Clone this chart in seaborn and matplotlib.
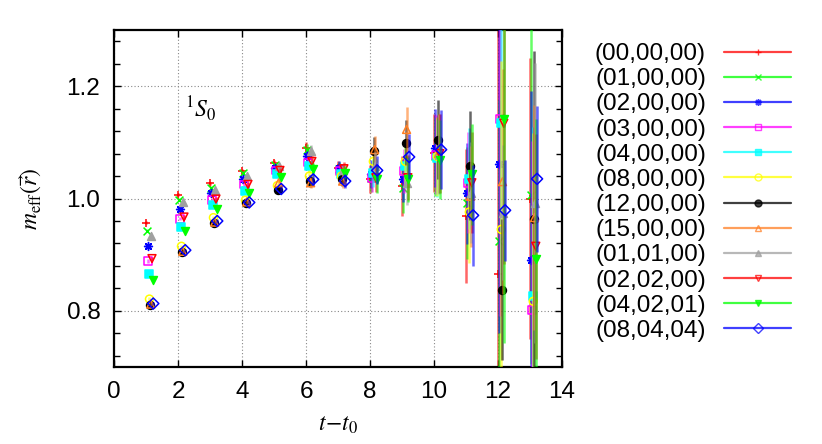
import numpy as np
import pandas as pd
import seaborn as sns
import matplotlib.pyplot as plt
from matplotlib.lines import Line2D
from matplotlib.ticker import MultipleLocator

# time slices
t_vals = list(range(1, 14))

labels = ["(00,00,00)", "(01,00,00)", "(02,00,00)", "(03,00,00)",
          "(04,00,00)", "(08,00,00)", "(12,00,00)", "(15,00,00)",
          "(01,01,00)", "(02,02,00)", "(04,02,01)", "(08,04,04)"]

# effective mass per relative distance
m_00_00_00 = [0.957, 1.007, 1.027, 1.049, 1.064, 1.090, 1.055, 1.034, 1.022, 1.081, 0.969, 0.866, 1.000]
m_01_00_00 = [0.943, 0.998, 1.019, 1.045, 1.059, 1.087, 1.053, 1.037, 1.019, 1.075, 0.992, 0.925, 1.006]
m_02_00_00 = [0.916, 0.982, 1.010, 1.034, 1.055, 1.075, 1.055, 1.043, 1.034, 1.090, 1.009, 1.061, 0.891]
m_03_00_00 = [0.889, 0.964, 0.998, 1.025, 1.050, 1.064, 1.049, 1.037, 1.049, 1.078, 1.028, 1.141, 0.802]
m_04_00_00 = [0.866, 0.950, 0.989, 1.014, 1.043, 1.057, 1.043, 1.046, 1.058, 1.072, 1.035, 1.135, 0.827]
m_08_00_00 = [0.821, 0.915, 0.966, 0.997, 1.023, 1.040, 1.040, 1.066, 1.066, 1.075, 0.976, 0.945, 0.817]
m_12_00_00 = [0.811, 0.905, 0.957, 0.992, 1.016, 1.031, 1.034, 1.084, 1.099, 1.105, 1.058, 0.838, 0.963]
m_15_00_00 = [0.812, 0.906, 0.958, 0.994, 1.028, 1.028, 1.031, 1.087, 1.123, 1.080, 1.004, 1.030, 0.966]
m_01_01_00 = [0.934, 0.993, 1.016, 1.040, 1.058, 1.085, 1.050, 1.058, 1.028, 1.078, 1.010, 0.975, 0.992]
m_02_02_00 = [0.893, 0.967, 0.999, 1.025, 1.050, 1.066, 1.053, 1.037, 1.037, 1.080, 1.028, 1.134, 0.915]
m_04_02_01 = [0.855, 0.942, 0.982, 1.010, 1.039, 1.053, 1.046, 1.034, 1.034, 1.069, 1.043, 1.142, 0.892]
m_08_04_04 = [0.813, 0.908, 0.960, 0.993, 1.017, 1.034, 1.031, 1.050, 1.074, 1.087, 0.970, 0.979, 1.035]

# statistical errors
e_00_00_00 = [0.003, 0.003, 0.003, 0.004, 0.005, 0.010, 0.012, 0.025, 0.053, 0.070, 0.120, 0.500, 0.250]
e_01_00_00 = [0.003, 0.003, 0.003, 0.004, 0.005, 0.010, 0.012, 0.025, 0.045, 0.070, 0.100, 0.250, 0.300]
e_02_00_00 = [0.003, 0.003, 0.003, 0.004, 0.005, 0.010, 0.012, 0.025, 0.040, 0.070, 0.090, 0.300, 0.300]
e_03_00_00 = [0.003, 0.003, 0.003, 0.004, 0.005, 0.010, 0.012, 0.025, 0.040, 0.070, 0.090, 0.350, 0.300]
e_04_00_00 = [0.003, 0.003, 0.003, 0.004, 0.005, 0.010, 0.012, 0.025, 0.040, 0.070, 0.090, 0.300, 0.300]
e_08_00_00 = [0.003, 0.003, 0.003, 0.004, 0.005, 0.010, 0.012, 0.025, 0.040, 0.070, 0.090, 0.300, 0.300]
e_12_00_00 = [0.003, 0.003, 0.003, 0.004, 0.005, 0.010, 0.012, 0.025, 0.040, 0.070, 0.097, 0.125, 0.300]
e_15_00_00 = [0.003, 0.003, 0.003, 0.004, 0.005, 0.010, 0.012, 0.025, 0.040, 0.070, 0.090, 0.200, 0.200]
e_01_01_00 = [0.003, 0.003, 0.003, 0.004, 0.005, 0.010, 0.012, 0.025, 0.040, 0.070, 0.090, 0.120, 0.250]
e_02_02_00 = [0.003, 0.003, 0.003, 0.004, 0.005, 0.010, 0.012, 0.025, 0.040, 0.070, 0.090, 0.250, 0.200]
e_04_02_01 = [0.003, 0.003, 0.003, 0.004, 0.005, 0.010, 0.012, 0.025, 0.040, 0.070, 0.090, 0.400, 0.250]
e_08_04_04 = [0.003, 0.003, 0.003, 0.004, 0.005, 0.010, 0.012, 0.025, 0.040, 0.070, 0.090, 0.090, 0.130]

masses = [m_00_00_00, m_01_00_00, m_02_00_00, m_03_00_00, m_04_00_00, m_08_00_00,
          m_12_00_00, m_15_00_00, m_01_01_00, m_02_02_00, m_04_02_01, m_08_04_04]
errors = [e_00_00_00, e_01_00_00, e_02_00_00, e_03_00_00, e_04_00_00, e_08_00_00,
          e_12_00_00, e_15_00_00, e_01_01_00, e_02_02_00, e_04_02_01, e_08_04_04]

# gnuplot-like styles: (colour, marker, filled)
styles = [("#ff0000", "+", True), ("#00ff00", "x", True), ("#0000ff", (8, 2, 0), True),
          ("#ff00ff", "s", False), ("#00ffff", "s", True), ("#ffff00", "o", False),
          ("#000000", "o", True), ("#ff7f24", "^", False), ("#a0a0a0", "^", True),
          ("#ff0000", "v", False), ("#00ff00", "v", True), ("#0000ff", "D", False)]

rows = []
for i, lab in enumerate(labels):
    for t, m, e in zip(t_vals, masses[i], errors[i]):
        rows.append({"series": lab, "idx": i, "t": t, "m": m, "err": e})
df = pd.DataFrame(rows)
df["x"] = df["t"] + 0.02 * df["idx"]

sns.set_style("ticks")
plt.rcParams["font.family"] = ["Liberation Sans", "DejaVu Sans"]
plt.rcParams["mathtext.fontset"] = "stix"

fig = plt.figure(figsize=(8.22, 4.44), dpi=100)
ax = fig.add_axes([0.139, 0.1734, 0.5447, 0.759])

handles = []
for i, lab in enumerate(labels):
    col, mk, filled = styles[i]
    sub = df[df["idx"] == i]
    ax.errorbar(sub["x"], sub["m"], yerr=sub["err"], fmt="none", ecolor=col,
                elinewidth=1.8, alpha=0.6, capsize=0, zorder=2 + i)
    fc = col if filled else "none"
    sns.scatterplot(data=sub, x="x", y="m", marker=mk, s=32, color=col,
                    facecolor=fc, edgecolor=col, linewidth=1.1, ax=ax,
                    legend=False, zorder=2.5 + i)
    handles.append(Line2D([], [], color=col, lw=1.6, alpha=0.75, marker=mk,
                          markersize=5, markerfacecolor=fc, markeredgecolor=col,
                          markeredgewidth=1.0, label=lab))

ax.set_xlim(0, 14)
ax.set_ylim(0.7, 1.3)
ax.xaxis.set_major_locator(MultipleLocator(2))
ax.yaxis.set_major_locator(MultipleLocator(0.2))
ax.yaxis.set_minor_locator(MultipleLocator(0.04))
ax.set_yticks([0.8, 1.0, 1.2])
ax.set_yticklabels(["0.8", "1.0", "1.2"])
ax.grid(True, which="major", color="#888888", linestyle=(0, (1, 2)), linewidth=0.8)
ax.tick_params(which="both", direction="in", top=True, right=True,
               labelsize=17.5, pad=10, colors="black")
ax.tick_params(which="major", length=5, width=1)
ax.tick_params(which="minor", length=4, width=1)
for sp in ax.spines.values():
    sp.set_linewidth(1.6)
    sp.set_color("black")

ax.set_xlabel(r"$t\!-\!t_0$", fontsize=17, labelpad=8, color="black")
ax.set_ylabel(r"$m_{\rm eff}(\vec{r})$", fontsize=17, labelpad=16, color="black")
ax.text(2.2, 1.145, r"${}^1S_0$", fontsize=17, color="black")

leg = fig.legend(handles=handles, loc="upper left", bbox_to_anchor=(0.712, 0.925),
                 frameon=False, markerfirst=False, fontsize=17.5, handlelength=2.75,
                 labelspacing=0.13, handletextpad=0.75, borderaxespad=0)
for txt in leg.get_texts():
    txt.set_color("black")

fig.savefig("out.png", dpi=100)
